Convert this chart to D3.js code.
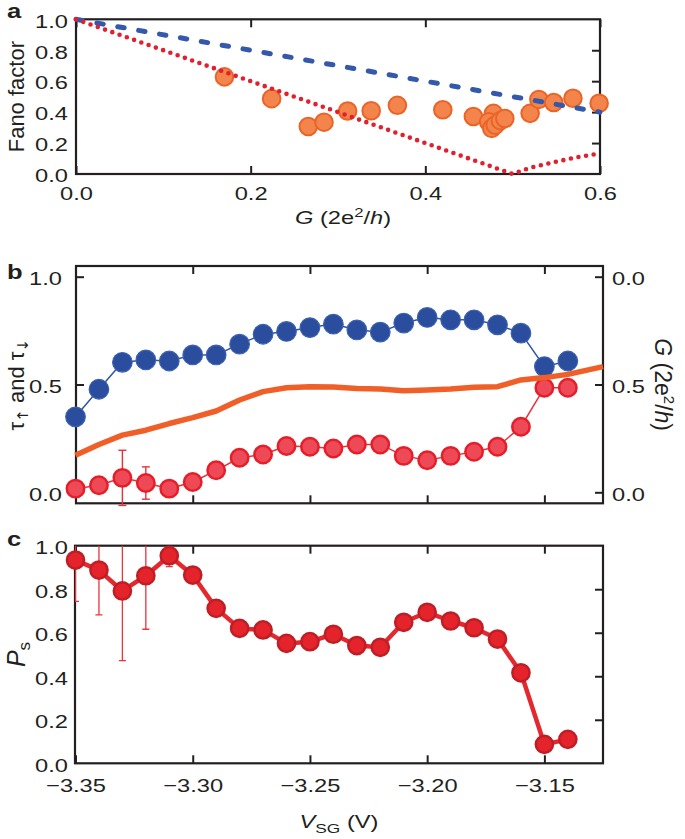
<!DOCTYPE html>
<html>
<head>
<meta charset="utf-8">
<script src="https://cdn.jsdelivr.net/npm/d3@7"></script>
<style>
  body { margin: 0; background: #fff; }
  svg { display: block; }
</style>
</head>
<body>
<svg id="fig" width="685" height="839"></svg>
<script>
// ---- panel a: Fano factor vs conductance ----
const fanoG = [0.170, 0.224, 0.266, 0.284, 0.311, 0.338, 0.368, 0.420, 0.455,
    0.478, 0.4725, 0.476, 0.480, 0.486, 0.491, 0.520, 0.530, 0.547, 0.569, 0.599];
const fanoF = [0.628, 0.487, 0.307, 0.335, 0.407, 0.409, 0.444, 0.415, 0.372,
    0.392, 0.337, 0.295, 0.316, 0.345, 0.359, 0.392, 0.482, 0.462, 0.490, 0.457];
// theory curves
const dashG = [0, 0.6];
const dashF = [1.0, 0.4];
const dotG = [0, 0.5, 0.52, 0.55, 0.575, 0.6];
const dotF = [1.0, 0.0, 0.04, 0.08, 0.11, 0.133];
const aTicksX = [0, 0.2, 0.4, 0.6];
const aTicksY = [0, 0.2, 0.4, 0.6, 0.8, 1.0];

// ---- panels b, c: vs split-gate voltage ----
const vsg = [-3.35, -3.34, -3.33, -3.32, -3.31, -3.30, -3.29, -3.28, -3.27, -3.26, -3.25,
    -3.24, -3.23, -3.22, -3.21, -3.20, -3.19, -3.18, -3.17, -3.16, -3.15, -3.14];
const tauUp = [0.350, 0.478, 0.603, 0.614, 0.609, 0.637, 0.637, 0.687, 0.733, 0.746, 0.764,
    0.780, 0.753, 0.743, 0.785, 0.811, 0.800, 0.800, 0.777, 0.738, 0.583, 0.609];
const tauDown = [0.017, 0.033, 0.067, 0.043, 0.017, 0.048, 0.102, 0.160, 0.175, 0.215, 0.211,
    0.203, 0.222, 0.222, 0.169, 0.149, 0.169, 0.188, 0.211, 0.304, 0.485, 0.485];
const tauDownErr = [0, 0, 0.128, 0.075, 0, 0, 0, 0, 0, 0, 0,
    0, 0, 0, 0, 0, 0, 0, 0, 0, 0, 0];
const condV = [-3.35, -3.34, -3.33, -3.32, -3.31, -3.30, -3.29, -3.28, -3.27, -3.26, -3.25,
    -3.24, -3.23, -3.22, -3.21, -3.20, -3.19, -3.18, -3.17, -3.16, -3.15, -3.14, -3.125];
const condG = [0.172, 0.222, 0.265, 0.288, 0.319, 0.346, 0.377, 0.428, 0.467, 0.485, 0.490,
    0.488, 0.482, 0.479, 0.471, 0.474, 0.479, 0.487, 0.490, 0.521, 0.532, 0.547, 0.583];
const ps = [0.934, 0.888, 0.792, 0.862, 0.954, 0.865, 0.712, 0.620, 0.613, 0.551, 0.559,
    0.593, 0.541, 0.533, 0.648, 0.694, 0.654, 0.623, 0.571, 0.416, 0.087, 0.110];
const psErr = [0.19, 0.206, 0.32, 0.246, 0.05, 0, 0, 0, 0, 0, 0,
    0, 0, 0, 0, 0, 0, 0, 0, 0, 0, 0];
const bTicksY = [0, 0.5, 1];
const bRightLabels = ['0.0', '0.5', '0.0'];
const vTicks = [-3.35, -3.30, -3.25, -3.20, -3.15];
const cTicksY = [0, 0.2, 0.4, 0.6, 0.8, 1.0];

const ink = '#231f20';
const FONT = '"Liberation Sans", Arial, Helvetica, sans-serif';
const K = 1.28;   // lettering in the figure is wider than it is tall

const svg = d3.select('#fig');

// Widen a text element around its own anchor point
function stretch(sel) {
    sel.each(function () {
        const t = d3.select(this);
        const x = +t.attr('x') || 0;
        t.attr('transform', `translate(${x * (1 - K)},0) scale(${K},1)`);
    });
}

function addAxis(gen, tx, ty, labelled) {
    const g = svg.append('g')
        .attr('transform', `translate(${tx},${ty})`)
        .call(gen)
        .attr('font-family', FONT)
        .attr('font-size', 18.5);
    g.select('.domain').remove();
    g.selectAll('.tick line').attr('stroke', ink).attr('stroke-width', 2);
    g.selectAll('.tick text').attr('fill', ink);
    if (!labelled) g.selectAll('.tick text').remove();
    return g;
}

function frame(p) {
    svg.append('rect')
        .attr('x', p.left).attr('y', p.top)
        .attr('width', p.right - p.left).attr('height', p.bottom - p.top)
        .attr('fill', 'none').attr('stroke', ink).attr('stroke-width', 2.2);
}

function letter(s, x, y) {
    const t = svg.append('text').attr('x', x).attr('y', y)
        .attr('font-family', FONT).attr('font-weight', 'bold')
        .attr('font-size', 20).attr('fill', ink).text(s);
    stretch(t);
}

const f1 = d3.format('.1f');
const f2 = d3.format('.2f');

// =========================== panel a
const A = { left: 76, right: 600, top: 19.3, bottom: 174 };
const xa = d3.scaleLinear([0, 0.6], [A.left, A.right]);
const ya = d3.scaleLinear([0, 1], [A.bottom, A.top]);

frame(A);
let ax = addAxis(d3.axisBottom(xa).tickValues(aTicksX).tickSize(-8).tickPadding(13).tickFormat(f1), 0, A.bottom, true);
stretch(ax.selectAll('.tick text'));
addAxis(d3.axisTop(xa).tickValues(aTicksX).tickSize(-8).tickFormat(''), 0, A.top, false);
ax = addAxis(d3.axisLeft(ya).tickValues(aTicksY).tickSize(0).tickPadding(8).tickFormat(f1), A.left, 0, true);
ax.selectAll('.tick text').attr('dy', '0.42em');
stretch(ax.selectAll('.tick text'));
addAxis(d3.axisRight(ya).tickValues(aTicksY.slice(1, -1)).tickSize(-8).tickFormat(''), A.right, 0, false);

svg.append('g')
    .selectAll('circle')
    .data(d3.zip(fanoG, fanoF))
    .join('circle')
    .attr('cx', d => xa(d[0]))
    .attr('cy', d => ya(d[1]))
    .attr('r', 8.8)
    .attr('fill', '#f2844c')
    .attr('stroke', '#eb6427')
    .attr('stroke-width', 2);

const lineA = d3.line().x(d => xa(d[0])).y(d => ya(d[1]));
svg.append('path')
    .attr('d', lineA(d3.zip(dashG, dashF)))
    .attr('fill', 'none').attr('stroke', '#3559aa')
    .attr('stroke-width', 5).attr('stroke-linecap', 'round')
    .attr('stroke-dasharray', '6.5,14.7');
svg.append('path')
    .attr('d', lineA(d3.zip(dotG, dotF)))
    .attr('fill', 'none').attr('stroke', '#e31e2d')
    .attr('stroke-width', 4.6).attr('stroke-linecap', 'round')
    .attr('stroke-dasharray', '0,7.7');

// axis titles, panel a
svg.append('text')
    .attr('transform', `translate(24,${(A.top + A.bottom) / 2}) rotate(-90)`)
    .attr('text-anchor', 'middle').attr('font-family', FONT)
    .attr('font-size', 22).attr('fill', ink).text('Fano factor');

let tx = svg.append('text').attr('x', 343).attr('y', 224)
    .attr('text-anchor', 'middle').attr('font-family', FONT)
    .attr('font-size', 18.5).attr('fill', ink);
tx.append('tspan').attr('font-style', 'italic').text('G');
tx.append('tspan').text(' (2e');
tx.append('tspan').attr('font-size', 13).attr('dy', -7).text('2');
tx.append('tspan').attr('dy', 7).text('/');
tx.append('tspan').attr('font-style', 'italic').text('h');
tx.append('tspan').text(')');
stretch(tx);

letter('a', 7, 18.5);

// =========================== panel b
const B = { left: 76, right: 603, top: 266, bottom: 503.3 };
const xv = d3.scaleLinear([-3.35, -3.125], [75.5, 603]);
const yb = d3.scaleLinear([0, 1], [492.3, 276.7]);

frame(B);
addAxis(d3.axisBottom(xv).tickValues(vTicks).tickSize(-8).tickFormat(''), 0, B.bottom, false);
addAxis(d3.axisTop(xv).tickValues(vTicks).tickSize(-8).tickFormat(''), 0, B.top, false);
ax = addAxis(d3.axisLeft(yb).tickValues(bTicksY).tickSize(-8).tickPadding(14).tickFormat(f1), B.left, 0, true);
ax.selectAll('.tick text').attr('dy', '0.42em');
stretch(ax.selectAll('.tick text'));
ax = addAxis(d3.axisRight(yb).tickValues(bTicksY).tickSize(-8).tickPadding(9)
    .tickFormat((d, i) => bRightLabels[i]), B.right, 0, true);
ax.selectAll('.tick text').attr('dy', '0.42em');
stretch(ax.selectAll('.tick text'));

const lineB = d3.line().x(d => xv(d[0])).y(d => yb(d[1]));

// tau down (red)
svg.append('path')
    .attr('d', lineB(d3.zip(vsg, tauDown)))
    .attr('fill', 'none').attr('stroke', '#e8303a').attr('stroke-width', 1.5);
const errB = svg.append('g').attr('stroke', '#e8303a').attr('stroke-width', 1.4)
    .selectAll('g')
    .data(d3.zip(vsg, tauDown, tauDownErr).filter(d => d[2] > 0))
    .join('g');
errB.append('line')
    .attr('x1', d => xv(d[0])).attr('x2', d => xv(d[0]))
    .attr('y1', d => yb(d[1] + d[2])).attr('y2', d => yb(d[1] - d[2]));
errB.append('line')
    .attr('x1', d => xv(d[0]) - 4).attr('x2', d => xv(d[0]) + 4)
    .attr('y1', d => yb(d[1] + d[2])).attr('y2', d => yb(d[1] + d[2]));
errB.append('line')
    .attr('x1', d => xv(d[0]) - 4).attr('x2', d => xv(d[0]) + 4)
    .attr('y1', d => yb(d[1] - d[2])).attr('y2', d => yb(d[1] - d[2]));
svg.append('g')
    .selectAll('circle')
    .data(d3.zip(vsg, tauDown))
    .join('circle')
    .attr('cx', d => xv(d[0])).attr('cy', d => yb(d[1]))
    .attr('r', 8.7)
    .attr('fill', '#ee4956').attr('stroke', '#e51e2a').attr('stroke-width', 2.5);

// tau up (blue)
svg.append('path')
    .attr('d', lineB(d3.zip(vsg, tauUp)))
    .attr('fill', 'none').attr('stroke', '#2f55a8').attr('stroke-width', 1.5);
svg.append('g')
    .selectAll('circle')
    .data(d3.zip(vsg, tauUp))
    .join('circle')
    .attr('cx', d => xv(d[0])).attr('cy', d => yb(d[1]))
    .attr('r', 9.8)
    .attr('fill', '#2a4d9d').attr('stroke', '#3c60b2').attr('stroke-width', 1.2);

// conductance (orange)
svg.append('path')
    .attr('d', lineB(d3.zip(condV, condG)))
    .attr('fill', 'none').attr('stroke', '#f05f28')
    .attr('stroke-width', 5.5).attr('stroke-linejoin', 'round');

// axis titles, panel b
tx = svg.append('text')
    .attr('transform', `translate(23.5,${(B.top + B.bottom) / 2}) rotate(-90)`)
    .attr('text-anchor', 'middle').attr('font-family', FONT)
    .attr('font-size', 22).attr('fill', ink);
tx.append('tspan').text('τ');
tx.append('tspan').attr('font-family', '"DejaVu Sans", sans-serif')
    .attr('font-size', 15).attr('dy', 4).text('↑');
tx.append('tspan').attr('dy', -4).text(' and τ');
tx.append('tspan').attr('font-family', '"DejaVu Sans", sans-serif')
    .attr('font-size', 15).attr('dy', 4).text('↓');

tx = svg.append('text')
    .attr('transform', `translate(655,${(B.top + B.bottom) / 2}) rotate(90)`)
    .attr('text-anchor', 'middle').attr('font-family', FONT)
    .attr('font-size', 23).attr('fill', ink);
tx.append('tspan').attr('font-style', 'italic').text('G');
tx.append('tspan').text(' (2e');
tx.append('tspan').attr('font-size', 15).attr('dy', -9).text('2');
tx.append('tspan').attr('dy', 9).text('/');
tx.append('tspan').attr('font-style', 'italic').text('h');
tx.append('tspan').text(')');

letter('b', 7, 279);

// =========================== panel c
const C = { left: 75, right: 603, top: 545.7, bottom: 763.3 };
const yc = d3.scaleLinear([0, 1], [C.bottom, C.top]);

frame(C);
ax = addAxis(d3.axisBottom(xv).tickValues(vTicks).tickSize(-8).tickPadding(15.6).tickFormat(f2), 0, C.bottom, true);
stretch(ax.selectAll('.tick text'));
addAxis(d3.axisTop(xv).tickValues(vTicks).tickSize(-8).tickFormat(''), 0, C.top, false);
ax = addAxis(d3.axisLeft(yc).tickValues(cTicksY).tickSize(0).tickPadding(7).tickFormat(f1), C.left, 0, true);
ax.selectAll('.tick text').attr('dy', '0.42em');
stretch(ax.selectAll('.tick text'));
addAxis(d3.axisRight(yc).tickValues(cTicksY.slice(1, -1)).tickSize(-8).tickFormat(''), C.right, 0, false);

svg.append('defs').append('clipPath').attr('id', 'clipC')
    .append('rect')
    .attr('x', C.left).attr('y', C.top)
    .attr('width', C.right - C.left).attr('height', C.bottom - C.top);

const errC = svg.append('g').attr('clip-path', 'url(#clipC)')
    .attr('stroke', '#e8343c').attr('stroke-width', 1.3)
    .selectAll('g')
    .data(d3.zip(vsg, ps, psErr).filter(d => d[2] > 0))
    .join('g');
errC.append('line')
    .attr('x1', d => xv(d[0])).attr('x2', d => xv(d[0]))
    .attr('y1', d => yc(d[1] + d[2])).attr('y2', d => yc(d[1] - d[2]));
errC.append('line')
    .attr('x1', d => xv(d[0]) - 3.5).attr('x2', d => xv(d[0]) + 3.5)
    .attr('y1', d => yc(d[1] - d[2])).attr('y2', d => yc(d[1] - d[2]));
errC.append('line')
    .attr('x1', d => xv(d[0]) - 3.5).attr('x2', d => xv(d[0]) + 3.5)
    .attr('y1', d => yc(d[1] + d[2])).attr('y2', d => yc(d[1] + d[2]));

const lineC = d3.line().x(d => xv(d[0])).y(d => yc(d[1]));
svg.append('path')
    .attr('d', lineC(d3.zip(vsg, ps)))
    .attr('fill', 'none').attr('stroke', '#e5282e')
    .attr('stroke-width', 4.5).attr('stroke-linejoin', 'round');
svg.append('g')
    .selectAll('circle')
    .data(d3.zip(vsg, ps))
    .join('circle')
    .attr('cx', d => xv(d[0])).attr('cy', d => yc(d[1]))
    .attr('r', 8.6)
    .attr('fill', '#e4232b').attr('stroke', '#bf1e26').attr('stroke-width', 2.5);

// axis titles, panel c
tx = svg.append('text')
    .attr('transform', `translate(25,${(C.top + C.bottom) / 2}) rotate(-90)`)
    .attr('text-anchor', 'middle').attr('font-family', FONT)
    .attr('font-size', 25).attr('fill', ink);
tx.append('tspan').attr('font-style', 'italic').text('P');
tx.append('tspan').attr('font-size', 17).attr('dy', 5).text('s');

tx = svg.append('text').attr('x', 339).attr('y', 828)
    .attr('text-anchor', 'middle').attr('font-family', FONT)
    .attr('font-size', 18.5).attr('fill', ink);
tx.append('tspan').attr('font-style', 'italic').text('V');
tx.append('tspan').attr('font-size', 13.5).attr('dy', 5).text('SG');
tx.append('tspan').attr('dy', -5).text(' (V)');
stretch(tx);

letter('c', 7, 546);
</script>
</body>
</html>
